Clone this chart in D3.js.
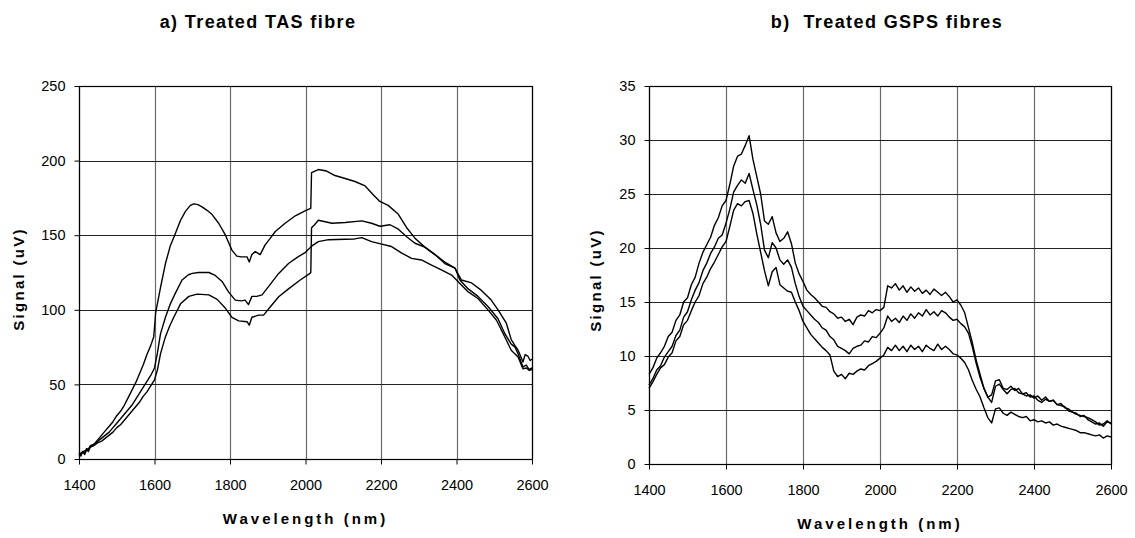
<!DOCTYPE html>
<html>
<head>
<meta charset="utf-8">
<script src="https://cdn.jsdelivr.net/npm/d3@7/dist/d3.min.js"></script>
<style>
body { margin: 0; background: #fff; }
svg { font-family: "Liberation Sans", Arial, sans-serif; }
</style>
</head>
<body>
<svg width="1135" height="538"></svg>
<script>
var w = 1135, h = 538;

// wavelength ticks shared by both charts
var wlTicks = [1400, 1600, 1800, 2000, 2200, 2400, 2600];

// a) treated TAS fibre, [wavelength nm, signal uV]
var tasTop = [[1400,4],[1405,3],[1410,5],[1420,6],[1430,8],[1440,10],[1450,13],[1460,16],[1470,19],[1480,22],
  [1490,25],[1500,29],[1510,32],[1520,36],[1530,41],[1540,46],[1550,51],[1560,57],[1570,63],[1580,70],
  [1590,76],[1598,82],[1600,88],[1603,98],[1616,115],[1629,131],[1642,143],[1655,151],[1669,160],[1682,166],
  [1695,170],[1704,171],[1715,170.5],[1726,169],[1740,166.5],[1752,164],[1770,158],[1788,150],[1805,140],
  [1818,136],[1830,135.5],[1845,135.5],[1851,132],[1858,137],[1867,139],[1880,137],[1893,143.5],[1907,148],
  [1920,152.5],[1946,158],[1973,163],[2000,166.5],[2014,168],[2016,192],[2034,194],[2056,193],[2078,190],
  [2105,188],[2131,186],[2158,183],[2180,177],[2197,172.6],[2219,170],[2246,164],[2268,155],[2290,148],
  [2316,142],[2343,137],[2369,132],[2396,128],[2413,120],[2440,118],[2466,113],[2492,106.5],[2510,100],
  [2532,91],[2545,80],[2555,76],[2563,73],[2576,65],[2582,70],[2589,69],[2595,66],[2600,67]];

var tasMid = [[1400,3],[1405,2],[1410,5],[1415,4],[1420,7],[1425,6],[1430,9],[1440,10],[1450,12],[1460,14],
  [1470,16],[1480,18],[1490,21],[1500,24],[1510,27],[1520,30],[1530,33],[1540,36],[1550,40],[1560,44],
  [1570,48],[1580,52],[1590,56],[1600,61],[1607,70],[1616,84],[1629,95],[1642,104],[1655,111],[1673,120],
  [1690,123.5],[1700,124.4],[1717,125],[1744,125],[1761,123],[1779,119],[1796,112],[1814,106.5],[1830,106],
  [1840,106.5],[1849,103.5],[1858,109],[1871,109],[1885,110],[1902,115.5],[1929,124.4],[1955,131],
  [1981,135.6],[2000,138.5],[2017,142.8],[2034,145.7],[2061,147],[2105,147.3],[2130,147.5],[2149,148.4],
  [2175,145.7],[2202,144],[2228,142.4],[2255,138],[2281,134.5],[2307,133.4],[2334,130],[2360,126.7],
  [2387,123.3],[2409,117.7],[2431,112],[2457,107.6],[2484,99.8],[2506,93],[2528,81.8],[2545,72.9],
  [2563,68.4],[2576,60.5],[2585,61],[2592,59.5],[2600,60]];

var tasLow = [[1400,3],[1405,4],[1410,5],[1415,3],[1420,6],[1425,5],[1430,8],[1440,9],[1450,11],[1460,12],
  [1470,14],[1480,16],[1490,18],[1500,21],[1510,23],[1520,26],[1530,29],[1540,32],[1550,35],[1560,38],
  [1570,42],[1580,45],[1590,49],[1600,53],[1608,60],[1616,70.6],[1629,82],[1640,89],[1651,95],[1669,104],
  [1691,109],[1713,110.5],[1744,110],[1766,107],[1788,101],[1805,95],[1823,92.6],[1845,92],[1851,89.7],
  [1858,95],[1876,96.4],[1889,96.4],[1907,102],[1929,108.7],[1955,114],[1986,120],[2012,124.4],[2014,125],
  [2016,155],[2024,157],[2034,160],[2070,158],[2105,158.5],[2149,159.6],[2175,158],[2197,156],[2224,157],
  [2246,154],[2268,149],[2290,144.6],[2316,142],[2343,137],[2369,131],[2396,128],[2409,120],[2431,114],
  [2457,109],[2484,102],[2510,94],[2528,84],[2545,77],[2555,75],[2563,70.6],[2576,61.7],[2585,63],
  [2592,60],[2600,61]];

// b) treated GSPS fibres, one value per 10 nm from 1400 to 2600
var gspsWl = d3.range(1400, 2601, 10);
var gspsTop = [
  8.3, 8.9, 9.8, 10.3, 10.9, 11.8, 12.2, 13.3, 13.8, 15.0,
  15.4, 16.6, 17.3, 18.6, 19.6, 20.3, 21.0, 22.1, 22.8, 23.9,
  24.4, 25.9, 27.6, 28.5, 28.7, 29.5, 30.4, 28.2, 26.6, 25.0,
  22.5, 22.2, 22.9, 21.4, 20.6, 20.9, 21.5, 20.4, 18.6, 17.6,
  16.9, 16.1, 15.7, 15.4, 15.0, 14.6, 14.5, 14.1, 13.9, 13.5,
  13.6, 13.2, 13.4, 12.9, 13.6, 13.8, 13.7, 14.2, 14.0, 14.3,
  14.2, 14.5, 16.5, 16.3, 16.7, 16.1, 16.5, 15.9, 16.4, 16.0,
  16.3, 15.8, 16.1, 15.7, 16.2, 15.9, 15.6, 15.9, 15.5, 15.0,
  15.2, 14.7, 14.0, 12.6, 11.2, 9.6, 8.3, 7.0, 6.2, 6.4,
  7.7, 7.8, 7.0, 6.9, 7.2, 6.8, 7.0, 6.5, 6.3, 6.4,
  6.1, 6.3, 5.9, 6.2, 5.8, 5.9, 5.5, 5.6, 5.2, 5.1,
  4.8, 4.7, 4.4, 4.5, 4.1, 3.9, 3.7, 3.8, 3.5, 3.9,
  3.8];
var gspsMid = [
  7.3, 7.9, 8.7, 9.1, 9.9, 10.4, 10.9, 11.9, 12.4, 13.6,
  14.1, 15.2, 16.1, 16.8, 17.9, 18.6, 19.5, 20.1, 20.9, 21.2,
  22.3, 23.6, 25.2, 25.8, 26.3, 26.0, 26.9, 25.4, 24.0, 22.2,
  19.8, 19.1, 20.5, 20.0, 18.9, 18.5, 18.9, 18.2, 16.7, 15.5,
  14.6, 14.2, 13.8, 13.4, 13.1, 12.6, 12.4, 11.8, 11.5, 10.9,
  10.7, 10.5, 10.2, 10.7, 10.9, 11.0, 11.4, 11.3, 11.8, 11.7,
  12.1, 12.6, 13.7, 13.2, 13.5, 13.1, 13.7, 13.3, 13.9, 13.5,
  14.0, 13.7, 14.3, 13.8, 14.1, 13.7, 14.2, 14.0, 13.6, 13.3,
  13.4, 13.0, 12.7, 12.1, 10.8, 9.3, 8.0, 7.0, 6.2, 5.7,
  7.2, 7.4, 6.9, 6.5, 6.9, 7.0, 6.6, 6.5, 6.6, 6.2,
  6.3, 5.9, 5.7, 6.0, 5.8, 5.9, 5.5, 5.4, 5.3, 4.9,
  4.8, 4.6, 4.5, 4.4, 4.3, 4.1, 3.9, 3.6, 3.7, 4.0,
  3.7];
var gspsLow = [
  7.0, 7.6, 8.3, 8.9, 9.2, 9.9, 10.3, 11.4, 11.8, 12.9,
  13.3, 14.2, 15.0, 15.6, 16.7, 17.3, 18.1, 18.7, 19.4, 20.1,
  20.6, 22.0, 23.5, 24.1, 23.9, 24.3, 24.4, 23.2, 21.3, 19.6,
  17.9, 16.5, 17.8, 18.2, 16.6, 16.3, 16.0, 15.9, 15.0, 14.2,
  13.2, 12.6, 12.0, 11.6, 11.2, 10.8, 10.5, 10.1, 8.6, 8.1,
  8.3, 7.9, 8.4, 8.3, 8.6, 8.8, 8.7, 9.1, 9.3, 9.5,
  9.8, 10.1, 10.8, 10.5, 11.0, 10.5, 10.9, 10.4, 11.0, 10.6,
  10.9, 10.4, 11.0, 10.7, 10.5, 11.1, 10.6, 10.9, 10.6, 10.2,
  10.1, 9.8, 9.4, 8.7, 7.7, 6.9, 6.2, 5.2, 4.3, 3.8,
  5.1, 5.2, 4.7, 4.5, 4.8, 4.6, 4.4, 4.3, 4.4, 4.0,
  4.1, 3.9, 4.0, 3.8, 3.9, 3.6, 3.7, 3.5, 3.4, 3.3,
  3.2, 3.1, 2.9, 2.9, 2.8, 2.7, 2.6, 2.7, 2.4, 2.6,
  2.5];

var tasTicks = [0, 50, 100, 150, 200, 250];
var gspsTicks = [0, 5, 10, 15, 20, 25, 30, 35];

function pairs(vals) {
  return vals.map(function(v, i) { return [gspsWl[i], v]; });
}

var svg = d3.select("svg").attr("width", w).attr("height", h);

function drawPanel(p) {
  var x = d3.scaleLinear().domain([1400, 2600]).range([p.left, p.right]);
  var y = d3.scaleLinear().domain([0, p.ymax]).range([p.bottom, p.top]);
  var g = svg.append("g");

  // grid
  g.selectAll(".vg").data(wlTicks).enter().append("line")
    .attr("x1", function(d) { return Math.round(x(d)) + 0.5; })
    .attr("x2", function(d) { return Math.round(x(d)) + 0.5; })
    .attr("y1", p.top).attr("y2", p.bottom)
    .attr("stroke", "#6a6a6a").attr("stroke-width", 1.2);
  g.selectAll(".hg").data(p.yTicks).enter().append("line")
    .attr("x1", p.left).attr("x2", p.right)
    .attr("y1", function(d) { return Math.round(y(d)) + 0.5; })
    .attr("y2", function(d) { return Math.round(y(d)) + 0.5; })
    .attr("stroke", "#222").attr("stroke-width", 1);

  g.append("rect")
    .attr("x", p.left + 0.5).attr("y", p.top + 0.5)
    .attr("width", p.right - p.left).attr("height", p.bottom - p.top)
    .attr("fill", "none").attr("stroke", "#000").attr("stroke-width", 1.2);

  // axes
  var xa = g.append("g").attr("transform", "translate(0," + (p.bottom + 0.5) + ")")
    .call(d3.axisBottom(x).tickValues(wlTicks).tickSize(5).tickPadding(15).tickFormat(d3.format("d")));
  var ya = g.append("g").attr("transform", "translate(" + (p.left + 0.5) + ",0)")
    .call(d3.axisLeft(y).tickValues(p.yTicks).tickSize(5).tickPadding(9));
  [xa, ya].forEach(function(a) {
    a.select(".domain").remove();
    a.selectAll("line").attr("stroke", "#000");
    a.selectAll("text").attr("font-size", "14.5px").attr("fill", "#000")
      .attr("font-family", "'Liberation Sans', Arial, sans-serif");
  });

  // curves
  var line = d3.line()
    .x(function(d) { return x(d[0]); })
    .y(function(d) { return y(d[1]); });
  g.selectAll(".curve").data(p.series).enter().append("path")
    .attr("d", line)
    .attr("fill", "none")
    .attr("stroke", "#000")
    .attr("stroke-width", 1.4)
    .attr("stroke-linejoin", "round");

  // titles
  g.append("text").attr("x", p.titleX).attr("y", 28)
    .attr("text-anchor", "middle").attr("font-size", "18px").attr("font-weight", "bold")
    .attr("letter-spacing", "1.4px").style("white-space", "pre")
    .text(p.title);
  g.append("text").attr("x", (p.left + p.right) / 2).attr("y", p.bottom + 65)
    .attr("text-anchor", "middle").attr("font-size", "15px").attr("font-weight", "bold")
    .attr("letter-spacing", "3px")
    .text("Wavelength (nm)");
  g.append("text")
    .attr("transform", "translate(" + p.ylabX + "," + p.ylabY + ") rotate(-90)")
    .attr("text-anchor", "middle").attr("font-size", "15px").attr("font-weight", "bold")
    .attr("letter-spacing", "2.3px")
    .text("Signal (uV)");
}

drawPanel({
  left: 79, right: 532, top: 86, bottom: 459, ymax: 250, yTicks: tasTicks,
  series: [tasTop, tasMid, tasLow],
  title: "a) Treated TAS fibre", titleX: 258, ylabX: 24, ylabY: 279
});

drawPanel({
  left: 649, right: 1111, top: 86, bottom: 464, ymax: 35, yTicks: gspsTicks,
  series: [pairs(gspsTop), pairs(gspsMid), pairs(gspsLow)],
  title: "b)  Treated GSPS fibres", titleX: 887, ylabX: 601, ylabY: 280
});
</script>
</body>
</html>
